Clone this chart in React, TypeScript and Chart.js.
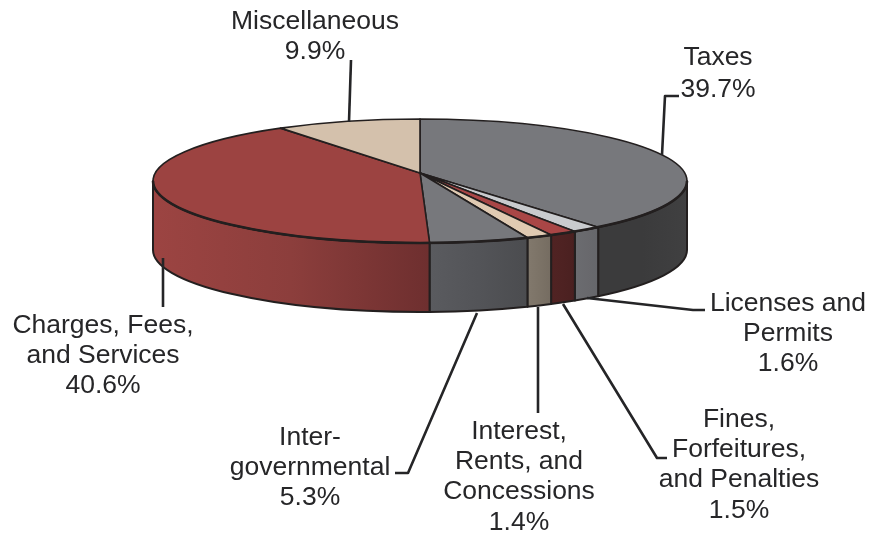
import React, { useEffect, useRef } from "react";
import { Chart, registerables } from "chart.js";

Chart.register(...registerables);

// Data, clockwise from 12 o'clock
const categories = [
  "Taxes",
  "Licenses and Permits",
  "Fines, Forfeitures, and Penalties",
  "Interest, Rents, and Concessions",
  "Intergovernmental",
  "Charges, Fees, and Services",
  "Miscellaneous",
];
const shares = [39.7, 1.6, 1.5, 1.4, 5.3, 40.6, 9.9];

// Styles
const topColors = ["#77787c", "#c9cbce", "#a94646", "#e0cab2", "#77787c", "#9c4341", "#d4c1ac"];
const wallFrom = ["#3b3b3c", "#6b6c70", "#512323", "#82796d", "#5a5b5f", "#9c4442", "#d4c1ac"];
const wallMid = ["#3b3b3c", "#69696d", "#4e2222", "#7c7367", "#535458", "#8c3e3c", "#d4c1ac"];
const wallTo = ["#404041", "#66676b", "#4a2020", "#756c61", "#4b4c4f", "#6e2f2f", "#d4c1ac"];

// Label layout: [text, centre x, baseline y]
const labelLines: [string, number, number][] = [
  ["Miscellaneous", 315, 29],
  ["9.9%", 315, 59],
  ["Taxes", 718, 65],
  ["39.7%", 718, 97],
  ["Licenses and", 788, 311],
  ["Permits", 788, 341],
  ["1.6%", 788, 371],
  ["Fines,", 739, 427],
  ["Forfeitures,", 739, 457],
  ["and Penalties", 739, 487],
  ["1.5%", 739, 518],
  ["Interest,", 519, 439],
  ["Rents, and", 519, 469],
  ["Concessions", 519, 499],
  ["1.4%", 519, 530],
  ["Inter-", 310, 445],
  ["governmental", 310, 475],
  ["5.3%", 310, 505],
  ["Charges, Fees,", 103, 333],
  ["and Services", 103, 363],
  ["40.6%", 103, 393],
];

// Leader lines, polylines as [x, y] pairs
const leaders: [number, number][][] = [
  [[351, 60], [349, 122]],
  [[679, 96], [665, 96], [662, 155]],
  [[587, 298], [693, 310], [705, 310]],
  [[563, 304], [657, 458], [667, 458]],
  [[538, 307], [538, 413]],
  [[477, 313], [408, 473], [395, 473]],
  [[163, 258], [163, 307]],
];

// Projection of the pie disc
const CENTER_Y = 181;
const RADIUS_Y = 62;
const DEPTH = 69;
const PERSPECTIVE = 0.877; // tilt: the apex sits above the ellipse centre
const APEX_Y = 173;

function project(angle: number) {
  // angle measured clockwise from the top, returned as ellipse parameter
  const half = angle / 2;
  if (Math.abs(Math.cos(half)) < 1e-9) return angle;
  const t = Math.atan(PERSPECTIVE * Math.tan(half)) * 2;
  return t + Math.round((angle - t) / (2 * Math.PI)) * 2 * Math.PI;
}

const pie3d = {
  id: "pie3d",
  beforeDatasetsDraw(chart: any) {
    const ctx: CanvasRenderingContext2D = chart.ctx;
    const arcs = chart.getDatasetMeta(0).data;
    const cx = arcs[0].x;
    const rx = arcs[0].outerRadius;
    const INK = "#231f1f";
    const pi = Math.PI;
    const slices = arcs.map((a: any, i: number) => ({
      i,
      s: project(a.startAngle + pi / 2) - pi / 2,
      e: project(a.endAngle + pi / 2) - pi / 2,
    }));
    ctx.save();
    ctx.lineJoin = "round";

    // walls
    for (const { i, s, e } of slices) {
      const p0 = Math.max(s, 0);
      const p1 = Math.min(e, pi);
      if (p1 <= p0) continue;
      const xa = cx + rx * Math.cos(p1);
      const xb = cx + rx * Math.cos(p0);
      const g = ctx.createLinearGradient(xa, 0, xb, 0);
      g.addColorStop(0, wallFrom[i]);
      g.addColorStop(0.5, wallMid[i]);
      g.addColorStop(1, wallTo[i]);
      ctx.beginPath();
      ctx.ellipse(cx, CENTER_Y, rx, RADIUS_Y, 0, p0, p1);
      ctx.ellipse(cx, CENTER_Y + DEPTH, rx, RADIUS_Y, 0, p1, p0, true);
      ctx.closePath();
      ctx.fillStyle = g;
      ctx.fill();
      ctx.strokeStyle = INK;
      ctx.lineWidth = 2;
      ctx.stroke();
    }

    // top faces
    for (const { i, s, e } of slices) {
      ctx.beginPath();
      ctx.moveTo(cx, APEX_Y);
      ctx.ellipse(cx, CENTER_Y, rx, RADIUS_Y, 0, s, e);
      ctx.closePath();
      ctx.fillStyle = topColors[i];
      ctx.fill();
      ctx.strokeStyle = INK;
      ctx.lineWidth = 1.6;
      ctx.stroke();
    }

    // heavier front rim
    ctx.beginPath();
    ctx.ellipse(cx, CENTER_Y, rx, RADIUS_Y, 0, 0, pi);
    ctx.strokeStyle = INK;
    ctx.lineWidth = 2.6;
    ctx.stroke();
    ctx.restore();
    return false;
  },
  afterDraw(chart: any) {
    const ctx: CanvasRenderingContext2D = chart.ctx;
    ctx.save();
    ctx.strokeStyle = "#252527";
    ctx.lineWidth = 2.6;
    ctx.lineJoin = "round";
    for (const pts of leaders) {
      ctx.beginPath();
      pts.forEach(([x, y], k) => (k ? ctx.lineTo(x, y) : ctx.moveTo(x, y)));
      ctx.stroke();
    }
    ctx.fillStyle = "#262628";
    ctx.font = '26.5px "Liberation Sans", Arial, sans-serif';
    ctx.textAlign = "center";
    ctx.textBaseline = "alphabetic";
    for (const [t, x, y] of labelLines) ctx.fillText(t, x, y);
    ctx.restore();
  },
};

export default function App() {
  const ref = useRef<HTMLCanvasElement>(null);
  useEffect(() => {
    const chart = new Chart(ref.current!, {
      type: "pie",
      data: {
        labels: categories,
        datasets: [{ data: shares, backgroundColor: topColors, borderWidth: 0 }],
      },
      options: {
        responsive: false,
        animation: false,
        layout: { padding: { left: 153, right: 185, top: 0, bottom: 0 } },
        plugins: { legend: { display: false }, tooltip: { enabled: false } },
      },
      plugins: [pie3d],
    } as any);
    return () => chart.destroy();
  }, []);
  return (
    <canvas
      ref={ref}
      width={872}
      height={535}
      style={{ position: "absolute", left: 0, top: 0, display: "block", filter: "blur(0.5px)" }}
    />
  );
}
